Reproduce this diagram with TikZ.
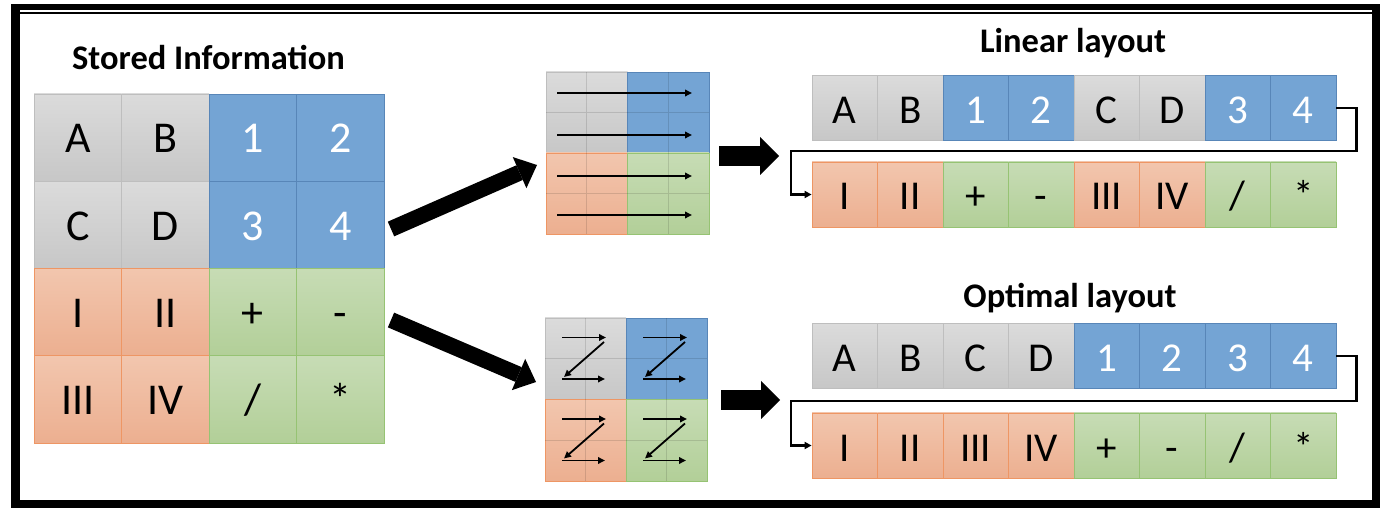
\documentclass[tikz,border=0pt]{standalone}
\usepackage{fontspec}
\setmainfont{Carlito}
\usetikzlibrary{arrows.meta}

\definecolor{grayT}{RGB}{219,219,219}\definecolor{grayB}{RGB}{199,199,199}\definecolor{grayL}{RGB}{190,190,190}
\definecolor{blueF}{RGB}{116,164,212}\definecolor{blueL}{RGB}{88,134,184}
\definecolor{orT}{RGB}{242,198,174}\definecolor{orB}{RGB}{236,175,144}\definecolor{orL}{RGB}{238,150,100}
\definecolor{gnT}{RGB}{199,220,181}\definecolor{gnB}{RGB}{178,207,152}\definecolor{gnL}{RGB}{150,195,115}

\begin{document}
\begin{tikzpicture}[x=1pt, y=-1pt,
    graycell/.style={top color=grayT, bottom color=grayB, draw=grayL},
    bluecell/.style={fill=blueF, draw=blueL, text=white},
    orangecell/.style={top color=orT, bottom color=orB, draw=orL},
    greencell/.style={top color=gnT, bottom color=gnB, draw=gnL},
    big/.style={line width=0.8pt, inner sep=0pt, minimum width=87.5pt, minimum height=87.25pt, text height=30.5pt, text depth=0pt, font=\fontsize{44}{44}\selectfont},
    box/.style={line width=0.8pt, inner sep=0pt, minimum width=65.5pt, minimum height=65pt, text height=31pt, text depth=0pt, font=\fontsize{41}{41}\selectfont},
    title/.style={anchor=base, font=\bfseries\fontsize{34.5}{34.5}\selectfont},
    midline/.style={black, opacity=0.12, line width=0.8pt},
    scan/.style={line width=1.8pt, -{Triangle[length=7pt,width=6.5pt]}},
    blockarrow/.style={line width=16pt, -{Triangle[length=19pt,width=34pt,line width=0pt]}},
    link/.style={line width=2.5pt, -{Triangle[length=7pt,width=7pt]}}]
    \useasboundingbox (0,0) rectangle (1390,518);
    \fill[white] (0,0) rectangle (1390,518);
    % frame
    \fill[black] (11,4) rectangle (1380,508);
    \fill[white] (20,10) rectangle (1372,500);
    \draw[line width=2.5pt] (20,13.2) -- (1372,13.2);

    % stored information
    \node[title] (ts) at (208.5,70) {Stored Information};
    \node[big, graycell] (s1) at (77.75,137.6) {A}; \node[big, graycell] (s2) at (165.25,137.6) {B}; \node[big, bluecell] (s3) at (252.75,137.6) {1}; \node[big, bluecell] (s4) at (340.25,137.6) {2};
    \node[big, graycell] (s5) at (77.75,224.9) {C}; \node[big, graycell] (s6) at (165.25,224.9) {D}; \node[big, bluecell] (s7) at (252.75,224.9) {3}; \node[big, bluecell] (s8) at (340.25,224.9) {4};
    \node[big, orangecell] (s9) at (77.75,312.1) {I}; \node[big, orangecell] (s10) at (165.25,312.1) {II}; \node[big, greencell] (s11) at (252.75,312.1) {+}; \node[big, greencell] (s12) at (340.25,312.1) {-};
    \node[big, orangecell] (s13) at (77.75,399.4) {III}; \node[big, orangecell] (s14) at (165.25,399.4) {IV}; \node[big, greencell] (s15) at (252.75,399.4) {/}; \node[big, greencell] (s16) at (340.25,399.4) {*};

    \coordinate (a1) at (391,229); \coordinate (b1) at (537,165);
    \coordinate (a2) at (391,320); \coordinate (b2) at (536,382);
    \draw[blockarrow] (a1) -- (b1);
    \draw[blockarrow] (a2) -- (b2);

    % row by row
    \draw[graycell, line width=0.8pt] (546,72) rectangle (627.5,153);
    \draw[bluecell, line width=0.8pt] (627.5,72) rectangle (709,153);
    \draw[orangecell, line width=0.8pt] (546,153) rectangle (627.5,234);
    \draw[greencell, line width=0.8pt] (627.5,153) rectangle (709,234);
    \draw[midline] (586.75,72) -- (586.75,234) (668.25,72) -- (668.25,234) (546,112.5) -- (709,112.5) (546,193.5) -- (709,193.5);
    \foreach \y in {93,135,176,215} \draw[scan] (557,\y) -- (692,\y);

    % block by block
    \draw[graycell, line width=0.8pt] (545,318) rectangle (626,399.5);
    \draw[bluecell, line width=0.8pt] (626,318) rectangle (707,399.5);
    \draw[orangecell, line width=0.8pt] (545,399.5) rectangle (626,481);
    \draw[greencell, line width=0.8pt] (626,399.5) rectangle (707,481);
    \draw[midline] (585.5,318) -- (585.5,481) (666.5,318) -- (666.5,481) (545,358.75) -- (707,358.75) (545,440.25) -- (707,440.25);
    \foreach \qx/\qy in {545/318, 626/318, 545/399.5, 626/399.5} {
        \draw[scan] (\qx+17,\qy+19.5) -- (\qx+61,\qy+19.5);
        \draw[scan] (\qx+59,\qy+24) -- (\qx+19,\qy+59);
        \draw[scan] (\qx+17,\qy+61) -- (\qx+60,\qy+61);
    }

    \coordinate (a3) at (719,156); \coordinate (b3) at (779,156);
    \coordinate (a4) at (721,400); \coordinate (b4) at (780,400);
    \draw[blockarrow, line width=20pt, -{Triangle[length=19pt,width=38pt,line width=0pt]}] (a3) -- (b3);
    \draw[blockarrow, line width=20pt, -{Triangle[length=19pt,width=38pt,line width=0pt]}] (a4) -- (b4);

    % linear layout
    \node[title] (tl) at (1073,52.3) {Linear layout};
    \node[box, graycell] (l1) at (844.75,108) {A}; \node[box, graycell] (l2) at (910.25,108) {B}; \node[box, bluecell] (l3) at (975.75,108) {1}; \node[box, bluecell] (l4) at (1041.25,108) {2};
    \node[box, graycell] (l5) at (1106.75,108) {C}; \node[box, graycell] (l6) at (1172.25,108) {D}; \node[box, bluecell] (l7) at (1237.75,108) {3}; \node[box, bluecell] (l8) at (1303.25,108) {4};
    \node[box, orangecell] (l9) at (844.75,194.5) {I}; \node[box, orangecell] (l10) at (910.25,194.5) {II}; \node[box, greencell] (l11) at (975.75,194.5) {+}; \node[box, greencell] (l12) at (1041.25,194.5) {-};
    \node[box, orangecell] (l13) at (1106.75,194.5) {III}; \node[box, orangecell] (l14) at (1172.25,194.5) {IV}; \node[box, greencell] (l15) at (1237.75,194.5) {/}; \node[box, greencell] (l16) at (1303.25,194.5) {*};
    \draw[link] (l8.east) -- ++(20,0) |- (791,151) |- (l9.west);

    % optimal layout
    \node[title] (to) at (1070,307.3) {Optimal layout};
    \node[box, graycell] (o1) at (844.75,356) {A}; \node[box, graycell] (o2) at (910.25,356) {B}; \node[box, graycell] (o3) at (975.75,356) {C}; \node[box, graycell] (o4) at (1041.25,356) {D};
    \node[box, bluecell] (o5) at (1106.75,356) {1}; \node[box, bluecell] (o6) at (1172.25,356) {2}; \node[box, bluecell] (o7) at (1237.75,356) {3}; \node[box, bluecell] (o8) at (1303.25,356) {4};
    \node[box, orangecell] (o9) at (844.75,445.5) {I}; \node[box, orangecell] (o10) at (910.25,445.5) {II}; \node[box, orangecell] (o11) at (975.75,445.5) {III}; \node[box, orangecell] (o12) at (1041.25,445.5) {IV};
    \node[box, greencell] (o13) at (1106.75,445.5) {+}; \node[box, greencell] (o14) at (1172.25,445.5) {-}; \node[box, greencell] (o15) at (1237.75,445.5) {/}; \node[box, greencell] (o16) at (1303.25,445.5) {*};
    \draw[link] (o8.east) -- ++(20,0) |- (791,401) |- (o9.west);
\end{tikzpicture}
\end{document}
